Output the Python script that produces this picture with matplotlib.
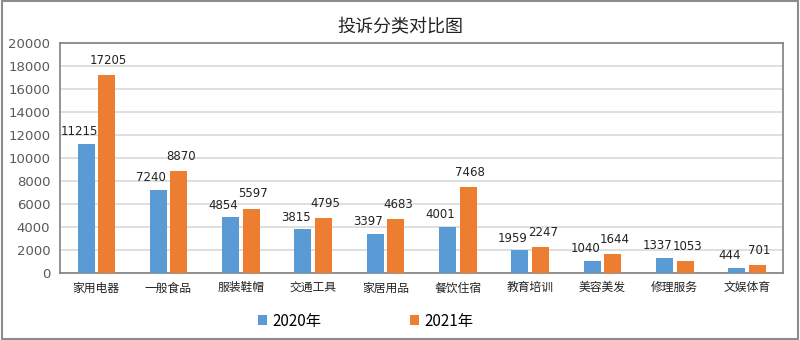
import numpy as np
import matplotlib.pyplot as plt
from matplotlib.patches import Rectangle

plt.rcParams['font.family'] = ['Noto Sans CJK SC', 'DejaVu Sans']

categories = ['家用电器', '一般食品', '服装鞋帽', '交通工具', '家居用品',
              '餐饮住宿', '教育培训', '美容美发', '修理服务', '文娱体育']
y2020 = [11215, 7240, 4854, 3815, 3397, 4001, 1959, 1040, 1337, 444]
y2021 = [17205, 8870, 5597, 4795, 4683, 7468, 2247, 1644, 1053, 701]

blue = '#5b9bd5'
orange = '#ed7d31'

fig = plt.figure(figsize=(8, 3.4), dpi=100)
ax = fig.add_axes([0.075, 0.197, 0.904, 0.677])

x = np.arange(len(categories))
w = 0.235
b1 = ax.bar(x - 0.14, y2020, w, color=blue, label='2020年', zorder=3)
b2 = ax.bar(x + 0.145, y2021, w, color=orange, label='2021年', zorder=3)

# blue labels nudged left, orange ones lifted a bit so neighbours don't collide
for bars, dx, dy in ((b1, -5, 4), (b2, 1.5, 6)):
    for r in bars:
        ax.annotate(str(int(r.get_height())),
                    (r.get_x() + r.get_width() / 2, r.get_height()),
                    xytext=(dx, dy), textcoords='offset points',
                    ha='center', va='bottom', fontsize=8.5,
                    family='DejaVu Sans', color='#222222')

ax.set_xlim(-0.5, len(categories) - 0.5)
ax.set_ylim(0, 20000)
ax.set_yticks(range(0, 20001, 2000))
ax.yaxis.grid(True, color='#d9d9d9', linewidth=1.2, zorder=0)
ax.set_xticks(x)
ax.set_xticklabels(categories, fontsize=8.5, color='#222222')
ax.tick_params(axis='y', labelsize=9.5, colors='#595959', length=0, pad=7)
ax.tick_params(axis='x', length=0, pad=6)
for lbl in ax.get_yticklabels():
    lbl.set_family('DejaVu Sans')
for s in ax.spines.values():
    s.set_color('#808080')
    s.set_linewidth(1.2)

fig.text(0.5, 0.92, '投诉分类对比图', ha='center', va='center', fontsize=13, color='#222222')

ax.legend(loc='center', bbox_to_anchor=(0.423, -0.209), ncol=2, frameon=False,
          fontsize=11, handlelength=0.6, handleheight=0.6, columnspacing=5.8,
          handletextpad=0.35)

fig.patches.append(Rectangle((0.002, 0.003), 0.996, 0.994, transform=fig.transFigure,
                             fill=False, edgecolor='#8c8c8c', linewidth=1.5))

fig.savefig('out.png')
